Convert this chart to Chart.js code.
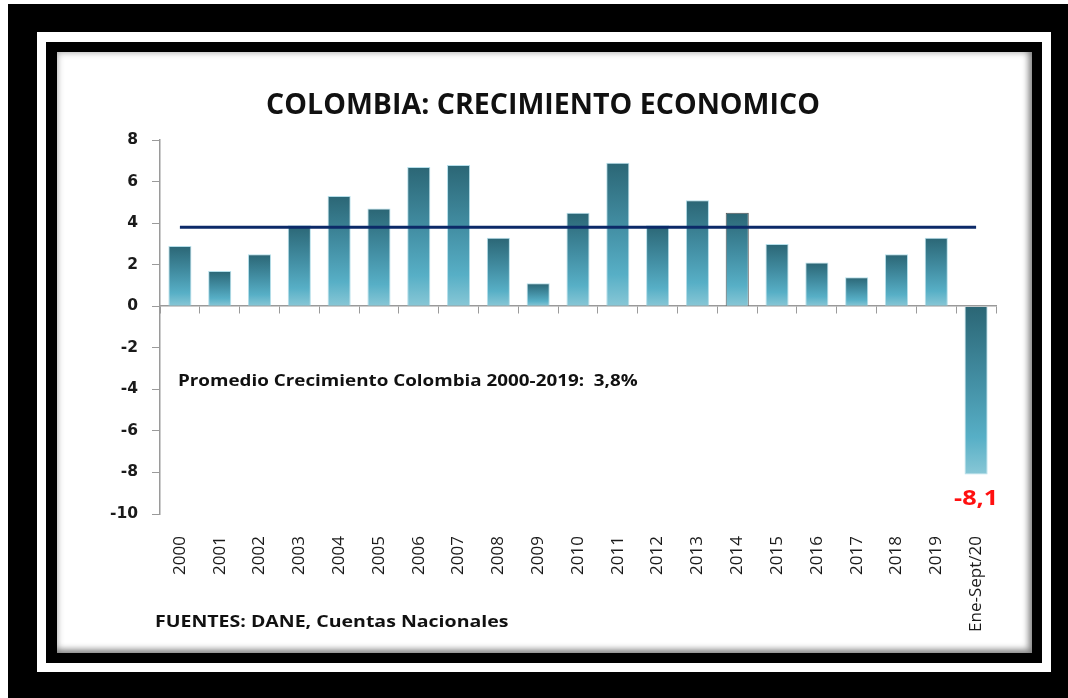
<!DOCTYPE html>
<html lang="es">
<head>
<meta charset="utf-8">
<title>Colombia: crecimiento económico</title>
<script src="https://cdn.jsdelivr.net/npm/chart.js@4.4.1/dist/chart.umd.min.js"></script>
<style>
  html, body { margin: 0; padding: 0; background: #fff; }
  body { position: relative; width: 1068px; height: 698px; overflow: hidden; }
  .marco { position: absolute; }
  .m1 { left: 8px; top: 4px; width: 1060px; height: 694px; background: #000; }
  .m2 { left: 37px; top: 32px; width: 1014px; height: 640px; background: #fff; }
  .m3 { left: 46px; top: 42px; width: 996px; height: 621px; background: #000; }
  .panel {
    left: 57px; top: 52px; width: 975px; height: 601px; background: #fff;
    box-shadow: inset 0 0 6px 1px rgba(0,0,0,0.28), inset -4px -4px 6px rgba(0,0,0,0.35);
  }
  #grafico { position: absolute; left: 0; top: 0; }
</style>
</head>
<body>
<div class="marco m1"></div>
<div class="marco m2"></div>
<div class="marco m3"></div>
<div class="marco panel"></div>
<canvas id="grafico" width="1068" height="698"></canvas>

<script>
// Datos: crecimiento anual del PIB (%)
const periodos = ['2000', '2001', '2002', '2003', '2004', '2005', '2006', '2007', '2008', '2009',
  '2010', '2011', '2012', '2013', '2014', '2015', '2016', '2017', '2018', '2019', 'Ene-Sept/20'];
const crecimiento = [2.9, 1.7, 2.5, 3.9, 5.3, 4.7, 6.7, 6.8, 3.3, 1.1,
  4.5, 6.9, 3.9, 5.1, 4.5, 3.0, 2.1, 1.4, 2.5, 3.3, -8.1];
// Promedio 2000-2019, trazado de la primera a la última barra
const promedio = 3.8;
const tramoPromedio = ['2000', 'Ene-Sept/20'];
const ticksY = [8, 6, 4, 2, 0, -2, -4, -6, -8, -10];

const fuente = "'Open Sans', 'DejaVu Sans', sans-serif";
const coma = v => v.toFixed(1).replace('.', ',');

// Degradado vertical de cada barra (oscuro arriba, claro abajo)
function rellenoBarra(ctx) {
  const chart = ctx.chart;
  const y = chart.scales.y;
  if (!y || !chart.chartArea || ctx.type !== 'data') return '#4a9db3';
  const v = ctx.raw;
  const arriba = y.getPixelForValue(Math.max(v, 0));
  const abajo = y.getPixelForValue(Math.min(v, 0));
  const g = chart.ctx.createLinearGradient(0, arriba, 0, abajo);
  g.addColorStop(0, '#2b6675');
  g.addColorStop(0.45, '#438fa4');
  g.addColorStop(0.78, '#57afc6');
  g.addColorStop(1, '#88c7d6');
  return g;
}

// Texto ensanchado horizontalmente (la fuente original es más ancha)
function texto(ctx, str, x, y, escala, align) {
  ctx.save();
  ctx.translate(x, y);
  ctx.scale(escala, 1);
  ctx.textAlign = align;
  ctx.fillText(str, 0, 0);
  ctx.restore();
}

// Textos: título, nota del promedio, fuente y valor de la barra negativa
const textos = {
  id: 'textos',
  afterDatasetsDraw(chart) {
    const { ctx, scales: { y } } = chart;
    ctx.save();
    ctx.fillStyle = '#111';
    ctx.textBaseline = 'middle';

    ctx.font = 'bold 28px ' + fuente;
    texto(ctx, 'COLOMBIA: CRECIMIENTO ECONOMICO', 543, 106, 1.02, 'center');

    ctx.font = 'bold 16.5px ' + fuente;
    texto(ctx, 'Promedio Crecimiento Colombia 2000-2019:  ' + coma(promedio) + '%',
      chart.chartArea.left + 18, y.getPixelForValue(-3.6), 1.14, 'left');

    ctx.font = 'bold 16px ' + fuente;
    texto(ctx, 'FUENTES: DANE, Cuentas Nacionales', 155, 622, 1.22, 'left');

    const meta = chart.getDatasetMeta(1);
    ctx.fillStyle = '#ff1010';
    ctx.font = 'bold 21px ' + fuente;
    meta.data.forEach((barra, i) => {
      if (crecimiento[i] < 0) texto(ctx, coma(crecimiento[i]), barra.x, barra.y + 24, 1.2, 'center');
    });
    ctx.restore();
  }
};

new Chart(document.getElementById('grafico').getContext('2d'), {
  data: {
    labels: periodos,
    datasets: [
      {
        type: 'line',
        label: 'Promedio',
        data: tramoPromedio.map(p => ({ x: p, y: promedio })),
        borderColor: '#0c2a68',
        borderWidth: 3,
        pointRadius: 0,
        order: 0
      },
      {
        type: 'bar',
        label: 'Crecimiento',
        data: crecimiento,
        backgroundColor: rellenoBarra,
        borderColor: ctx => ctx.dataIndex === 14 ? 'rgba(40,40,40,0.8)' : 'rgba(150,210,225,0.7)',
        borderWidth: 1,
        barPercentage: 0.58,
        categoryPercentage: 1,
        order: 1
      }
    ]
  },
  options: {
    responsive: false,
    animation: false,
    layout: { padding: { left: 60, right: 72, top: 140, bottom: 54 } },
    plugins: { legend: { display: false }, tooltip: { enabled: false } },
    scales: {
      x: {
        type: 'category',
        offset: true,
        grid: { display: false },
        border: { display: false },
        ticks: {
          autoSkip: false, minRotation: 90, maxRotation: 90, padding: 14,
          color: '#1a1a1a', font: { family: fuente, size: 17 }
        },
        afterFit: s => { s.height = 130; }
      },
      // eje de categorías sobre el cero, sólo para la línea base y sus marcas
      xCero: {
        type: 'category',
        position: { y: 0 },
        offset: true,
        grid: { offset: true, drawOnChartArea: false, drawTicks: true, tickLength: 7, color: '#9a9a9a' },
        border: { color: '#9a9a9a', width: 1.5 },
        ticks: { display: false }
      },
      y: {
        min: -10,
        max: 8,
        afterBuildTicks: s => { s.ticks = ticksY.map(v => ({ value: v })); },
        grid: { drawOnChartArea: false, drawTicks: true, tickLength: 8, color: '#9a9a9a' },
        border: { color: '#9a9a9a', width: 1.5 },
        ticks: {
          padding: 14, color: '#1a1a1a',
          font: { family: "'DejaVu Sans', sans-serif", size: 15.5, weight: 'bold' }
        },
        afterFit: s => { s.width = 100; }
      }
    }
  },
  plugins: [textos]
});
</script>
</body>
</html>
